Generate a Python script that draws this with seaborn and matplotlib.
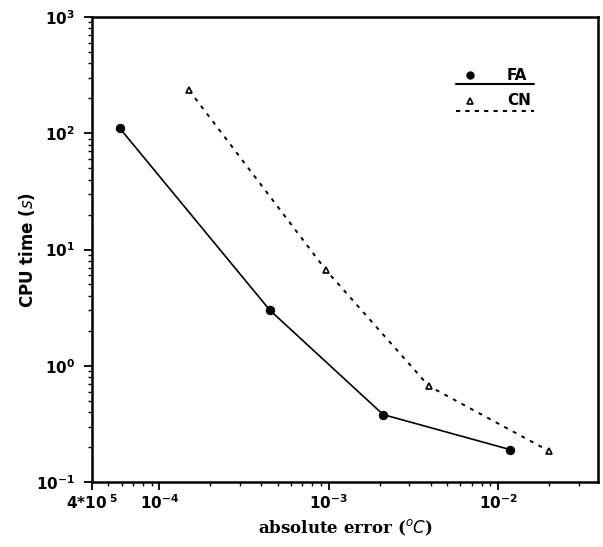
import numpy as np
import pandas as pd
import matplotlib.pyplot as plt
import matplotlib.ticker as mticker
import seaborn as sns

# values
fa_err = [5.85e-5, 4.5e-4, 2.1e-3, 1.18e-2]
fa_cpu = [110, 3.0, 0.38, 0.19]
cn_err = [1.5e-4, 9.6e-4, 3.9e-3, 2.0e-2]
cn_cpu = [234, 6.7, 0.67, 0.185]

x_ticks = [4e-5, 1e-4, 1e-3, 1e-2]
x_labels = [r'$\mathbf{4{*}10^{\ 5}}$', r'$\mathbf{10^{-4}}$', r'$\mathbf{10^{-3}}$', r'$\mathbf{10^{-2}}$']
y_ticks = [1e-1, 1e0, 1e1, 1e2, 1e3]
y_labels = [r'$\mathbf{10^{-1}}$', r'$\mathbf{10^{0}}$', r'$\mathbf{10^{1}}$', r'$\mathbf{10^{2}}$', r'$\mathbf{10^{3}}$']

sns.set_style("ticks")
plt.rcParams['font.family'] = ['DejaVu Sans']
plt.rcParams['text.color'] = 'black'
plt.rcParams['axes.labelcolor'] = 'black'
plt.rcParams['xtick.color'] = 'black'
plt.rcParams['ytick.color'] = 'black'

fig = plt.figure(figsize=(6.03, 5.47), dpi=100)
ax = fig.add_axes([92 / 603, 65 / 547, 506 / 603, 465 / 547])

df_fa = pd.DataFrame({'err': fa_err, 'cpu': fa_cpu})
df_cn = pd.DataFrame({'err': cn_err, 'cpu': cn_cpu})

sns.lineplot(data=df_fa, x='err', y='cpu', ax=ax, color='black', lw=1.2,
             marker='o', markersize=6, markeredgecolor='black')
sns.lineplot(data=df_cn, x='err', y='cpu', ax=ax, color='black', lw=1.4,
             linestyle=(0, (2, 3)), marker='^', markersize=5,
             markerfacecolor='white', markeredgecolor='black', markeredgewidth=1.2)

ax.set_xscale('log')
ax.set_yscale('log')
ax.set_xlim(4e-5, 3.9e-2)
ax.set_ylim(1e-1, 1e3)

ax.set_xticks(x_ticks)
ax.set_xticklabels(x_labels, fontsize=11)
ax.set_yticks(y_ticks)
ax.set_yticklabels(y_labels, fontsize=11)
ax.xaxis.set_minor_locator(mticker.LogLocator(base=10, subs=np.arange(2, 10)))
ax.yaxis.set_minor_locator(mticker.LogLocator(base=10, subs=np.arange(2, 10)))
ax.xaxis.set_minor_formatter(mticker.NullFormatter())
ax.yaxis.set_minor_formatter(mticker.NullFormatter())
ax.tick_params(which='major', direction='out', length=6, width=1.3, color='black')
ax.tick_params(which='minor', direction='out', length=3, width=1.0, color='black')
ax.tick_params(axis='y', pad=6)
ax.tick_params(axis='x', pad=2)

for s in ax.spines.values():
    s.set_linewidth(1.8)
    s.set_color('black')

ax.set_xlabel(r'absolute error ($^o C$)', fontsize=12, fontweight='bold',
              family='DejaVu Serif', labelpad=4)
ax.set_ylabel(r'CPU time ($s$)', fontsize=12, fontweight='bold')
ax.yaxis.set_label_coords(-0.108, 0.5)

# legend drawn in the style of the original
ax.plot([0.747], [0.875], 'o', color='black', ms=5, transform=ax.transAxes)
ax.text(0.82, 0.875, 'FA', transform=ax.transAxes, fontsize=11, fontweight='bold', va='center')
ax.plot([0.72, 0.873], [0.856, 0.856], '-', color='black', lw=1.5, transform=ax.transAxes)
ax.plot([0.747], [0.82], '^', color='black', ms=4, mfc='white', mew=1.2, transform=ax.transAxes)
ax.text(0.82, 0.82, 'CN', transform=ax.transAxes, fontsize=11, fontweight='bold', va='center')
ax.plot([0.72, 0.873], [0.798, 0.798], color='black', lw=1.5, linestyle=(0, (2, 2.5)),
        transform=ax.transAxes)

plt.savefig('out.png', dpi=100)
